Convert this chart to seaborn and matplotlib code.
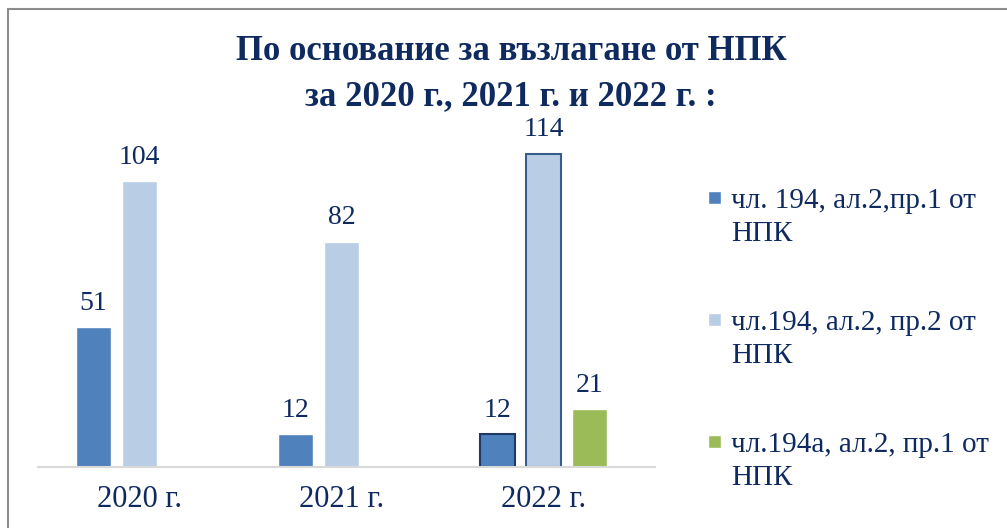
import numpy as np
import pandas as pd
import matplotlib
matplotlib.use("Agg")
import matplotlib.pyplot as plt
from matplotlib.lines import Line2D
from matplotlib.patches import Rectangle
from matplotlib.legend_handler import HandlerPatch
import seaborn as sns

years = ["2020 г.", "2021 г.", "2022 г."]
series_names = ["чл. 194, ал.2,пр.1 от\nНПК",
                "чл.194, ал.2, пр.2 от\nНПК",
                "чл.194а, ал.2, пр.1 от\nНПК"]
pr1 = [51, 12, 12]
pr2 = [104, 82, 114]
art194a = [np.nan, np.nan, 21]

title = "По основание за възлагане от НПК\nза 2020 г., 2021 г. и 2022 г. :"
colors = ["#4F81BD", "#B9CDE5", "#9BBB59"]
text_color = "#0F2A5F"

df = pd.DataFrame({
    "year": years * 3,
    "series": [series_names[0]] * 3 + [series_names[1]] * 3 + [series_names[2]] * 3,
    "value": pr1 + pr2 + art194a,
})

sns.set_style("white")
plt.rcParams["font.family"] = ["Liberation Serif", "DejaVu Serif"]

fig = plt.figure(figsize=(10.07, 5.28), dpi=100)
ax = fig.add_axes([38 / 1007, 61 / 528, 617 / 1007, 330 / 528])

sns.barplot(data=df, x="year", y="value", hue="series", palette=colors,
            width=0.68, gap=0.24, ax=ax, saturation=1, legend=True)

ax.set_ylim(0, 120)
ax.set_xlim(-0.5, 2.55)
ax.set_xlabel("")
ax.set_ylabel("")
ax.set_yticks([])
for side in ["top", "right", "left"]:
    ax.spines[side].set_visible(False)
ax.spines["bottom"].set_color("#D9D9D9")
ax.spines["bottom"].set_linewidth(1.5)
ax.tick_params(axis="x", length=0, pad=13, labelsize=22, labelcolor=text_color)

# outlines on 2022 bars
edge_cols = ["#1F3864", "#385D8A", None]
for cont, ec in zip(ax.containers, edge_cols):
    if ec is not None:
        cont.patches[2].set_edgecolor(ec)
        cont.patches[2].set_linewidth(1.5)
    ax.bar_label(cont, labels=["" if np.isnan(v) else f"{v:.0f}" for v in cont.datavalues],
                 padding=8, fontsize=20, color=text_color)


def top_square(legend, orig_handle, xdescent, ydescent, width, height, fontsize):
    s = 0.44 * fontsize
    return Rectangle((-xdescent, -ydescent + height - s + 0.28 * fontsize), s, s)


handles, labels = ax.get_legend_handles_labels()
ax.legend_.remove()
leg = fig.legend(handles, labels, loc="upper left", bbox_to_anchor=(682 / 1007, 1 - 162 / 528),
                 frameon=False, fontsize=21, handlelength=0.44, handleheight=1.6,
                 handletextpad=0.33, labelspacing=2.15, labelcolor=text_color,
                 handler_map={h: HandlerPatch(patch_func=top_square) for h in handles})
for t in leg.get_texts():
    t.set_linespacing(1.36)

fig.text(511 / 1007, 1 - 74 / 528, title, ha="center", va="center",
         fontsize=25, fontweight="bold", color=text_color, linespacing=1.45)

# chart frame (top and left edges visible)
fig.add_artist(Line2D([8 / 1007, 8 / 1007], [0, 1 - 9 / 528], transform=fig.transFigure,
                      color="#8C8C8C", lw=1.5))
fig.add_artist(Line2D([8 / 1007, 1], [1 - 9 / 528, 1 - 9 / 528], transform=fig.transFigure,
                      color="#8C8C8C", lw=1.5))

fig.savefig("out.png", dpi=100)
